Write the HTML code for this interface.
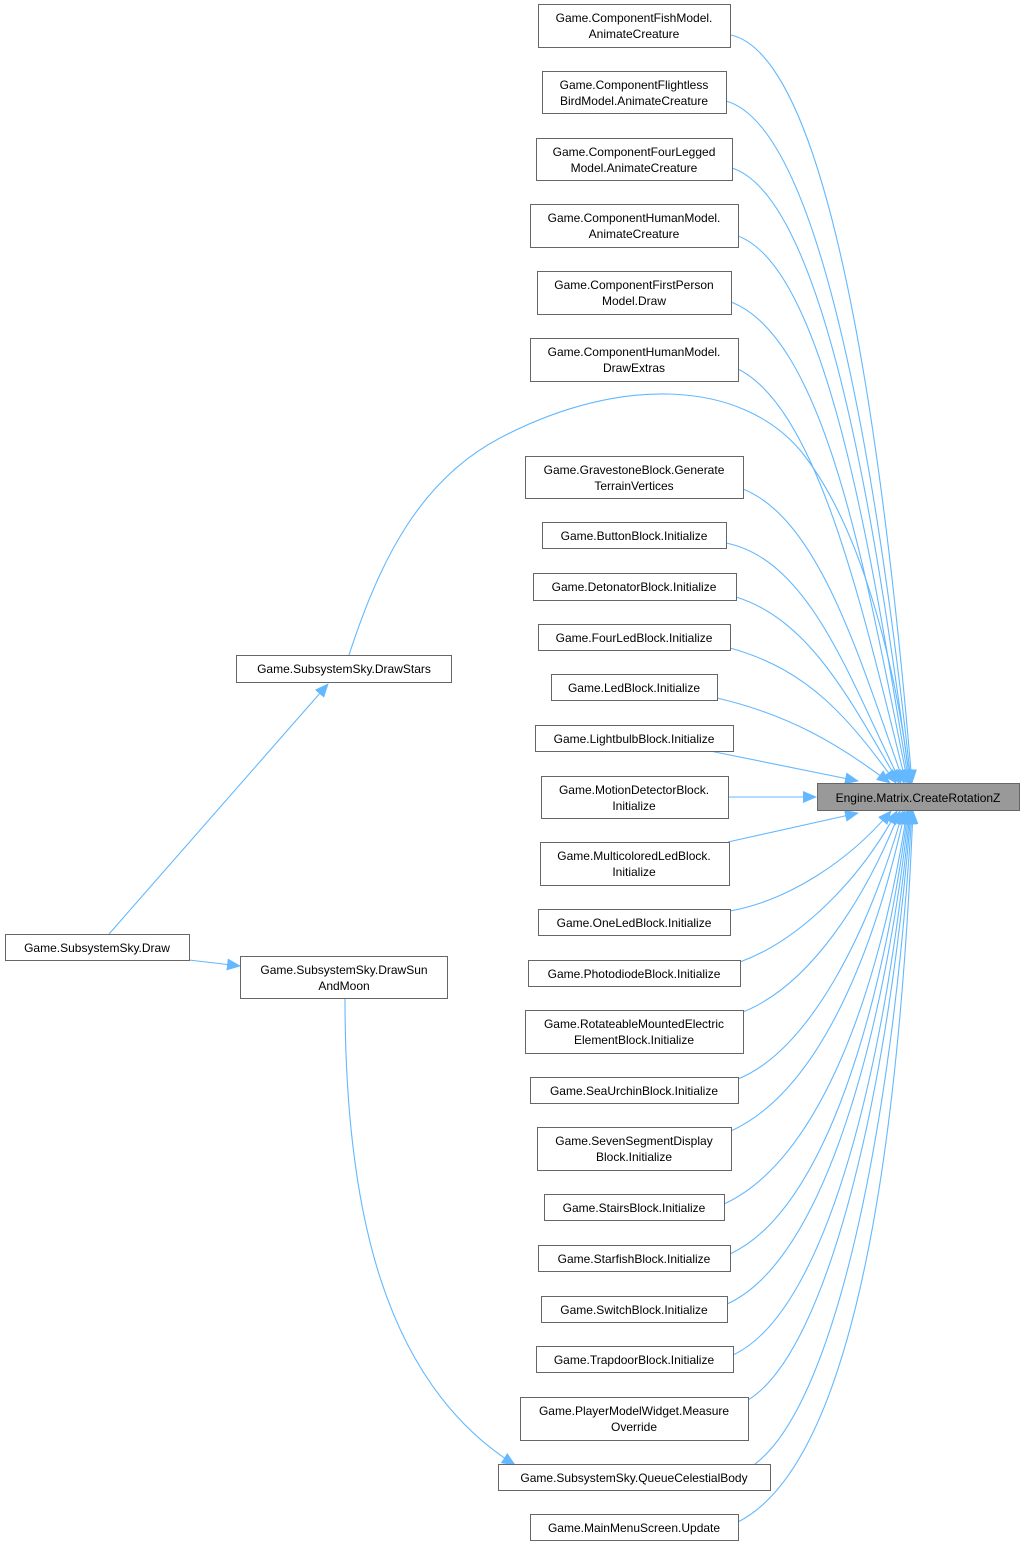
<!DOCTYPE html>
<html><head><meta charset="utf-8"><style>
html,body{margin:0;padding:0;background:#fff;}
svg text{font-family:"Liberation Sans",Arial,sans-serif;font-size:12px;fill:#000;}
</style></head><body>
<svg width="1025" height="1547" viewBox="0 0 1025 1547" xmlns="http://www.w3.org/2000/svg">
<defs>
<marker id="a" markerWidth="14" markerHeight="12" refX="13" refY="6" orient="auto" markerUnits="userSpaceOnUse">
<path d="M0,0 L14,6 L0,12 Z" fill="#63b8ff"/>
</marker>
</defs>
<g fill="none" stroke="#63b8ff" stroke-width="1.1" marker-end="url(#a)">
<path d="M731,35 C840,60 890,520 912,783"/>
<path d="M726,101 C830,130 885,540 911,783"/>
<path d="M732,168 C830,200 880,560 910,783"/>
<path d="M738,236 C830,270 875,580 909,783"/>
<path d="M731,302 C830,340 870,600 908,783"/>
<path d="M738,369 C820,410 865,620 906,783"/>
<path d="M349,655 C380,560 420,480 500,438 C620,375 740,380 800,450 C865,530 898,680 910,783"/>
<path d="M743,489 C820,520 860,660 904,783"/>
<path d="M726,543 C810,560 850,680 901,783"/>
<path d="M736,597 C810,620 850,700 899,783"/>
<path d="M730,648 C810,670 850,720 896,783"/>
<path d="M717,698 C790,715 840,745 890,783"/>
<path d="M710,751 L858,781"/>
<path d="M728,797 L816,797"/>
<path d="M728,842 L858,813"/>
<path d="M730,911 C790,900 850,860 891,811"/>
<path d="M740,962 C800,940 860,880 897,811"/>
<path d="M743,1012 C810,985 865,900 900,811"/>
<path d="M738,1079 C810,1050 870,930 903,811"/>
<path d="M731,1131 C820,1090 875,950 905,811"/>
<path d="M724,1204 C820,1160 880,990 907,811"/>
<path d="M730,1254 C825,1210 882,1010 908,811"/>
<path d="M727,1304 C825,1260 885,1030 909,811"/>
<path d="M733,1355 C830,1310 888,1050 910,811"/>
<path d="M748,1400 C830,1350 890,1080 911,811"/>
<path d="M755,1464 C840,1400 895,1100 912,811"/>
<path d="M738,1522 C860,1460 900,1120 913,811"/>
<path d="M109,934 L328,684"/>
<path d="M189,960 L240,966"/>
<path d="M345,998 C345,1200 380,1380 515,1465"/>
</g>
<g stroke="#666" stroke-width="1" fill="#fff">
<rect x="538.5" y="4.5" width="192" height="43"/>
<rect x="542.5" y="71.5" width="184" height="42"/>
<rect x="536.5" y="138.5" width="196" height="42"/>
<rect x="530.5" y="204.5" width="208" height="43"/>
<rect x="537.5" y="271.5" width="194" height="43"/>
<rect x="530.5" y="338.5" width="208" height="43"/>
<rect x="525.5" y="456.5" width="218" height="42"/>
<rect x="542.5" y="522.5" width="184" height="26"/>
<rect x="533.5" y="573.5" width="203" height="27"/>
<rect x="538.5" y="624.5" width="192" height="26"/>
<rect x="551.5" y="674.5" width="166" height="26"/>
<rect x="535.5" y="725.5" width="198" height="26"/>
<rect x="541.5" y="776.5" width="187" height="42"/>
<rect x="540.5" y="842.5" width="189" height="43"/>
<rect x="538.5" y="909.5" width="192" height="26"/>
<rect x="528.5" y="960.5" width="212" height="26"/>
<rect x="525.5" y="1010.5" width="218" height="43"/>
<rect x="530.5" y="1077.5" width="208" height="26"/>
<rect x="537.5" y="1127.5" width="194" height="43"/>
<rect x="544.5" y="1194.5" width="180" height="26"/>
<rect x="538.5" y="1245.5" width="192" height="26"/>
<rect x="541.5" y="1296.5" width="186" height="26"/>
<rect x="536.5" y="1346.5" width="197" height="26"/>
<rect x="520.5" y="1397.5" width="228" height="43"/>
<rect x="498.5" y="1464.5" width="272" height="26"/>
<rect x="530.5" y="1514.5" width="208" height="26"/>
<rect x="236.5" y="655.5" width="215" height="27"/>
<rect x="5.5" y="934.5" width="184" height="26"/>
<rect x="240.5" y="956.5" width="207" height="42"/>
<rect x="817.5" y="783.5" width="202" height="27" fill="#999"/>
</g>
<g text-anchor="middle">
<text x="634" y="22">Game.ComponentFishModel.</text><text x="634" y="38">AnimateCreature</text>
<text x="634" y="89">Game.ComponentFlightless</text><text x="634" y="105">BirdModel.AnimateCreature</text>
<text x="634" y="156">Game.ComponentFourLegged</text><text x="634" y="172">Model.AnimateCreature</text>
<text x="634" y="222">Game.ComponentHumanModel.</text><text x="634" y="238">AnimateCreature</text>
<text x="634" y="289">Game.ComponentFirstPerson</text><text x="634" y="305">Model.Draw</text>
<text x="634" y="356">Game.ComponentHumanModel.</text><text x="634" y="372">DrawExtras</text>
<text x="634" y="474">Game.GravestoneBlock.Generate</text><text x="634" y="490">TerrainVertices</text>
<text x="634" y="540">Game.ButtonBlock.Initialize</text>
<text x="634" y="591">Game.DetonatorBlock.Initialize</text>
<text x="634" y="642">Game.FourLedBlock.Initialize</text>
<text x="634" y="692">Game.LedBlock.Initialize</text>
<text x="634" y="743">Game.LightbulbBlock.Initialize</text>
<text x="634" y="794">Game.MotionDetectorBlock.</text><text x="634" y="810">Initialize</text>
<text x="634" y="860">Game.MulticoloredLedBlock.</text><text x="634" y="876">Initialize</text>
<text x="634" y="927">Game.OneLedBlock.Initialize</text>
<text x="634" y="978">Game.PhotodiodeBlock.Initialize</text>
<text x="634" y="1028">Game.RotateableMountedElectric</text><text x="634" y="1044">ElementBlock.Initialize</text>
<text x="634" y="1095">Game.SeaUrchinBlock.Initialize</text>
<text x="634" y="1145">Game.SevenSegmentDisplay</text><text x="634" y="1161">Block.Initialize</text>
<text x="634" y="1212">Game.StairsBlock.Initialize</text>
<text x="634" y="1263">Game.StarfishBlock.Initialize</text>
<text x="634" y="1314">Game.SwitchBlock.Initialize</text>
<text x="634" y="1364">Game.TrapdoorBlock.Initialize</text>
<text x="634" y="1415">Game.PlayerModelWidget.Measure</text><text x="634" y="1431">Override</text>
<text x="634" y="1482">Game.SubsystemSky.QueueCelestialBody</text>
<text x="634" y="1532">Game.MainMenuScreen.Update</text>
<text x="344" y="673">Game.SubsystemSky.DrawStars</text>
<text x="97" y="952">Game.SubsystemSky.Draw</text>
<text x="344" y="974">Game.SubsystemSky.DrawSun</text><text x="344" y="990">AndMoon</text>
<text x="918" y="802">Engine.Matrix.CreateRotationZ</text>
</g>
</svg>
</body></html>
